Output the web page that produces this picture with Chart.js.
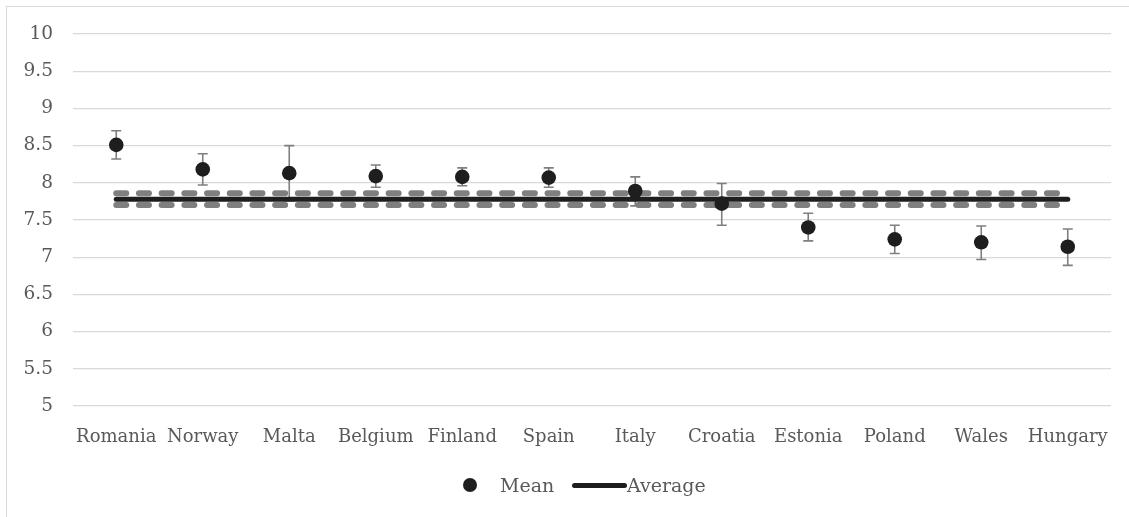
<!DOCTYPE html>
<html>
<head>
<meta charset="utf-8">
<script src="https://cdn.jsdelivr.net/npm/chart.js@4/dist/chart.umd.min.js"></script>
<style>
  html, body { margin: 0; padding: 0; background: #ffffff; }
  body { width: 1129px; height: 517px; position: relative; overflow: hidden; font-family: "DejaVu Serif", serif; }
  #frame { position: absolute; left: 6px; top: 6px; width: 1140px; height: 530px; border-left: 1px solid #d9d9d9; border-top: 1px solid #d9d9d9; box-sizing: border-box; }
  #wrap { position: absolute; left: 0; top: 0; width: 1129px; height: 517px; }
  #legend { position: absolute; left: 0; top: 472px; width: 1129px; height: 26px; color: #595959; font-size: 19px; }
  .item { position: absolute; top: 0; height: 26px; display: flex; align-items: center; }
  .item.dotItem { left: 463px; }
  .item.lineItem { left: 572px; }
  .dot { width: 14px; height: 14px; border-radius: 50%; background: #1e1e1e; margin-right: 23px; }
  .line { width: 55px; height: 5px; border-radius: 3px; background: #1e1e1e; margin-right: 0px; }
</style>
</head>
<body>
<div id="frame"></div>
<div id="wrap"><canvas id="c" width="1129" height="517"></canvas></div>
<div id="legend"></div>
<script>
const categories = ['Romania','Norway','Malta','Belgium','Finland','Spain','Italy','Croatia','Estonia','Poland','Wales','Hungary'];
const meanValues = [8.51, 8.18, 8.13, 8.09, 8.08, 8.07, 7.89, 7.72, 7.40, 7.24, 7.20, 7.14];
const errorUpper = [8.70, 8.39, 8.50, 8.24, 8.20, 8.20, 8.08, 7.99, 7.59, 7.43, 7.42, 7.38];
const errorLower = [8.32, 7.97, 7.76, 7.94, 7.96, 7.94, 7.69, 7.43, 7.22, 7.05, 6.97, 6.89];
const averageValues = [7.78, 7.78, 7.78, 7.78, 7.78, 7.78, 7.78, 7.78, 7.78, 7.78, 7.78, 7.78];
const upperBandValues = [7.86, 7.86, 7.86, 7.86, 7.86, 7.86, 7.86, 7.86, 7.86, 7.86, 7.86, 7.86];
const lowerBandValues = [7.70, 7.70, 7.70, 7.70, 7.70, 7.70, 7.70, 7.70, 7.70, 7.70, 7.70, 7.70];
const yTicks = [5, 5.5, 6, 6.5, 7, 7.5, 8, 8.5, 9, 9.5, 10];
const yTickLabels = ['5', '5.5', '6', '6.5', '7', '7.5', '8', '8.5', '9', '9.5', '10'];

const FONT = '"DejaVu Serif", serif';
const TEXT = '#595959';
const DARK = '#1e1e1e';
const GRAY = '#7f7f7f';

const errorBars = {
  id: 'errorBars',
  beforeDatasetsDraw(chart) {
    const ctx = chart.ctx, xs = chart.scales.x, ys = chart.scales.y;
    ctx.save();
    ctx.strokeStyle = GRAY;
    ctx.lineWidth = 1.6;
    for (let i = 0; i < categories.length; i++) {
      const x = xs.getPixelForValue(i);
      const yt = ys.getPixelForValue(errorUpper[i]);
      const yb = ys.getPixelForValue(errorLower[i]);
      ctx.beginPath();
      ctx.moveTo(x, yt); ctx.lineTo(x, yb);
      ctx.moveTo(x - 5, yt); ctx.lineTo(x + 5, yt);
      ctx.moveTo(x - 5, yb); ctx.lineTo(x + 5, yb);
      ctx.stroke();
    }
    ctx.restore();
  }
};

const chart = new Chart(document.getElementById('c'), {
  type: 'line',
  data: {
    labels: categories,
    datasets: [
      { label: 'Mean', data: meanValues, showLine: false, pointRadius: 7.3, pointHoverRadius: 7.3,
        pointBackgroundColor: DARK, pointBorderWidth: 0, borderColor: DARK, order: 0, legend: 'dot' },
      { label: 'Average', data: averageValues, borderColor: DARK, borderWidth: 5, pointRadius: 0,
        borderCapStyle: 'round', order: 1, legend: 'line' },
      { label: 'Upper', data: upperBandValues, borderColor: GRAY, borderWidth: 6, pointRadius: 0,
        borderDash: [10, 12.7], borderCapStyle: 'round', order: 2 },
      { label: 'Lower', data: lowerBandValues, borderColor: GRAY, borderWidth: 6, pointRadius: 0,
        borderDash: [10, 12.7], borderCapStyle: 'round', order: 3 }
    ]
  },
  options: {
    responsive: false,
    animation: false,
    events: [],
    layout: { padding: { top: 34, right: 18, bottom: 57, left: 0 } },
    plugins: { legend: { display: false }, tooltip: { enabled: false } },
    scales: {
      x: {
        offset: true,
        grid: { display: false },
        border: { display: false },
        ticks: { color: TEXT, font: { family: FONT, size: 18 }, padding: 13, maxRotation: 0, autoSkip: false },
        afterFit(s) { s.height = 54; }
      },
      y: {
        min: 5, max: 10,
        afterBuildTicks(s) { s.ticks = yTicks.map(v => ({ value: v })); },
        grid: { color: '#d9d9d9', lineWidth: 1.3, drawTicks: false },
        border: { display: false },
        ticks: { color: TEXT, font: { family: FONT, size: 18.5 }, padding: 20,
          callback: (v) => yTickLabels[yTicks.indexOf(v)] },
        afterFit(s) { s.width = 73; }
      }
    }
  },
  plugins: [errorBars]
});

const legendEl = document.getElementById('legend');
chart.data.datasets.filter(d => d.legend).forEach(d => {
  const item = document.createElement('div');
  item.className = 'item ' + d.legend + 'Item';
  const mark = document.createElement('div');
  mark.className = d.legend;
  const txt = document.createElement('span');
  txt.textContent = d.label;
  item.appendChild(mark);
  item.appendChild(txt);
  legendEl.appendChild(item);
});
</script>
</body>
</html>
